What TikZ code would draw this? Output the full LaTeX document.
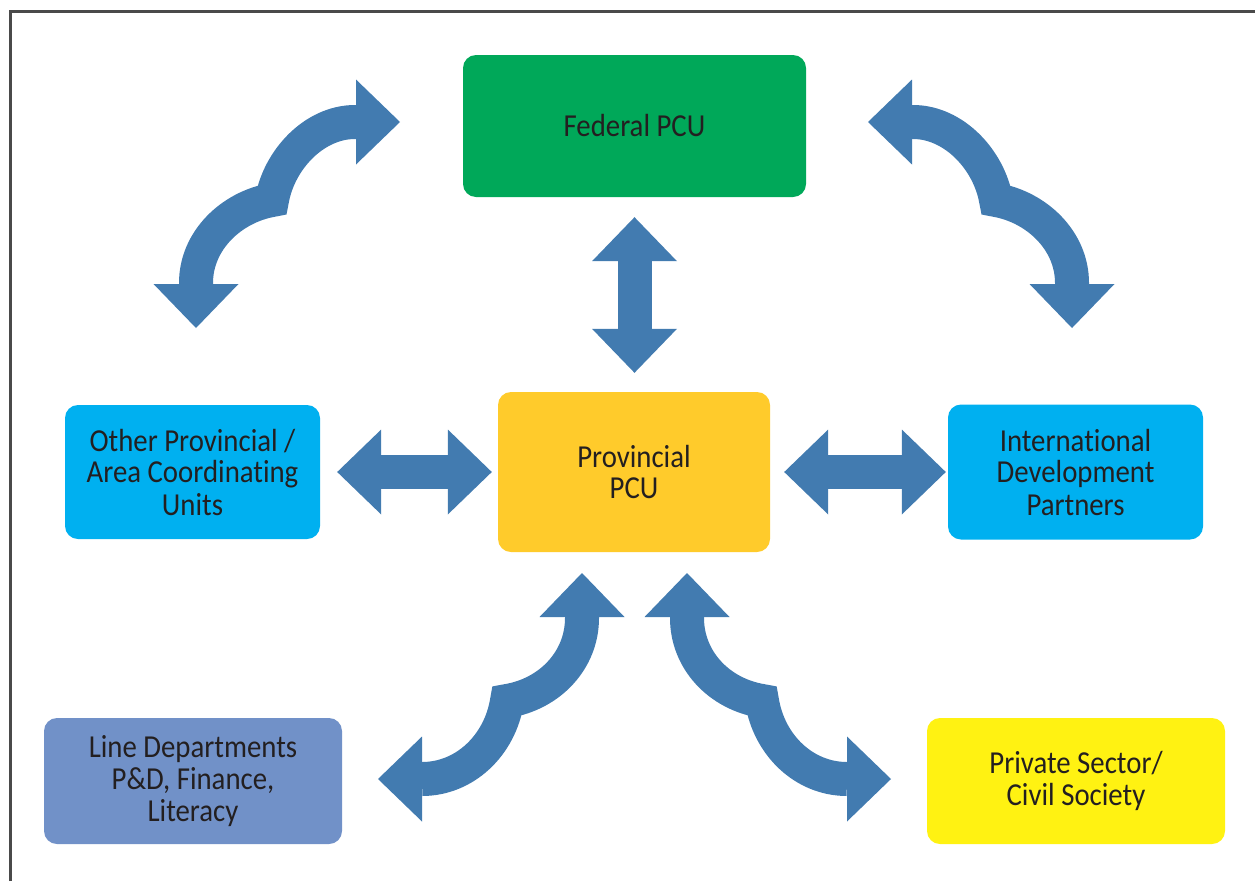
\documentclass[tikz,border=0pt]{standalone}
\usepackage{fontspec}
\setmainfont{Carlito}[FakeStretch=0.9, Ligatures={NoCommon,NoContextual,NoRare}, Contextuals=NoAlternate]
\usetikzlibrary{arrows.meta}

\definecolor{fedgreen}{HTML}{00A859}
\definecolor{boxcyan}{HTML}{00B0F0}
\definecolor{provyellow}{HTML}{FFCB2B}
\definecolor{lineblue}{HTML}{7191C8}
\definecolor{privyellow}{HTML}{FFF212}
\definecolor{arrowblue}{HTML}{427BB0}
\definecolor{textgray}{HTML}{231F20}
\definecolor{framegray}{HTML}{4A4A4A}

\tikzset{
  bigtip/.tip={Triangle[length=44pt,width=85pt,line width=0pt]},
  unit/.style={rectangle, rounded corners=13pt, inner sep=0pt, align=center,
    text=textgray, font=\fontsize{32}{32}\selectfont},
  flow/.style={draw=arrowblue, line width=34pt, line join=miter, bigtip-bigtip},
}

\begin{document}
\begin{tikzpicture}[x=1pt, y=-1pt]
  \useasboundingbox (0,0) rectangle (1255,881);

  % outer frame (open at right and bottom)
  \draw[framegray, line width=2.6pt] (10.5,881) -- (10.5,11.5) -- (1255,11.5);

  % units
  \node[unit, fill=fedgreen, minimum width=343pt, minimum height=142pt]
    (fed) at (634.5,126) {Federal PCU};
  \node[unit, fill=provyellow, minimum width=272pt, minimum height=160pt]
    (prov) at (634,472) {Provincial\\PCU};
  \node[unit, fill=boxcyan, minimum width=255pt, minimum height=134pt]
    (other) at (192.5,472) {Other Provincial /\\Area Coordinat\kern0pt ing\\Units};
  \node[unit, fill=boxcyan, minimum width=255pt, minimum height=135pt]
    (intl) at (1075.5,472) {Internat\kern0pt ional\\Development\\Partners};
  \node[unit, fill=lineblue, minimum width=298pt, minimum height=126pt]
    (line) at (193,781) {Line Departments\\P\&D, Finance,\\Literacy};
  \node[unit, fill=privyellow, minimum width=298pt, minimum height=126pt]
    (priv) at (1076,781) {Private Sector/\\Civil Society};

  % straight two-way links
  \draw[flow, shorten <=20pt, shorten >=19pt] (fed.south) -- (fed.south |- prov.north);
  \draw[flow, shorten <=17pt, shorten >=6pt] (other.east) -- (prov.west);
  \draw[flow, shorten <=14pt, shorten >=2pt] (prov.east) -- (intl.west);

  % curved two-way links, upper pair
  \draw[flow] (400,122) -- (355,122)
    .. controls (314,122) and (279,160) .. (272,200)
    .. controls (232,207) and (196,240) .. (196,283) -- (196,328);
  \begin{scope}[xshift=1268pt, xscale=-1]
    \draw[flow] (400,122) -- (355,122)
      .. controls (314,122) and (279,160) .. (272,200)
      .. controls (232,207) and (196,240) .. (196,283) -- (196,328);
  \end{scope}

  % curved two-way links, lower pair
  \draw[flow] (582,573) -- (582,618)
    .. controls (582,660) and (550,694) .. (507,701)
    .. controls (500,745) and (465,779) .. (422,779) -- (378,779);
  \begin{scope}[xshift=1269pt, xscale=-1]
    \draw[flow] (582,573) -- (582,618)
      .. controls (582,660) and (550,694) .. (507,701)
      .. controls (500,745) and (465,779) .. (422,779) -- (378,779);
  \end{scope}
\end{tikzpicture}
\end{document}
